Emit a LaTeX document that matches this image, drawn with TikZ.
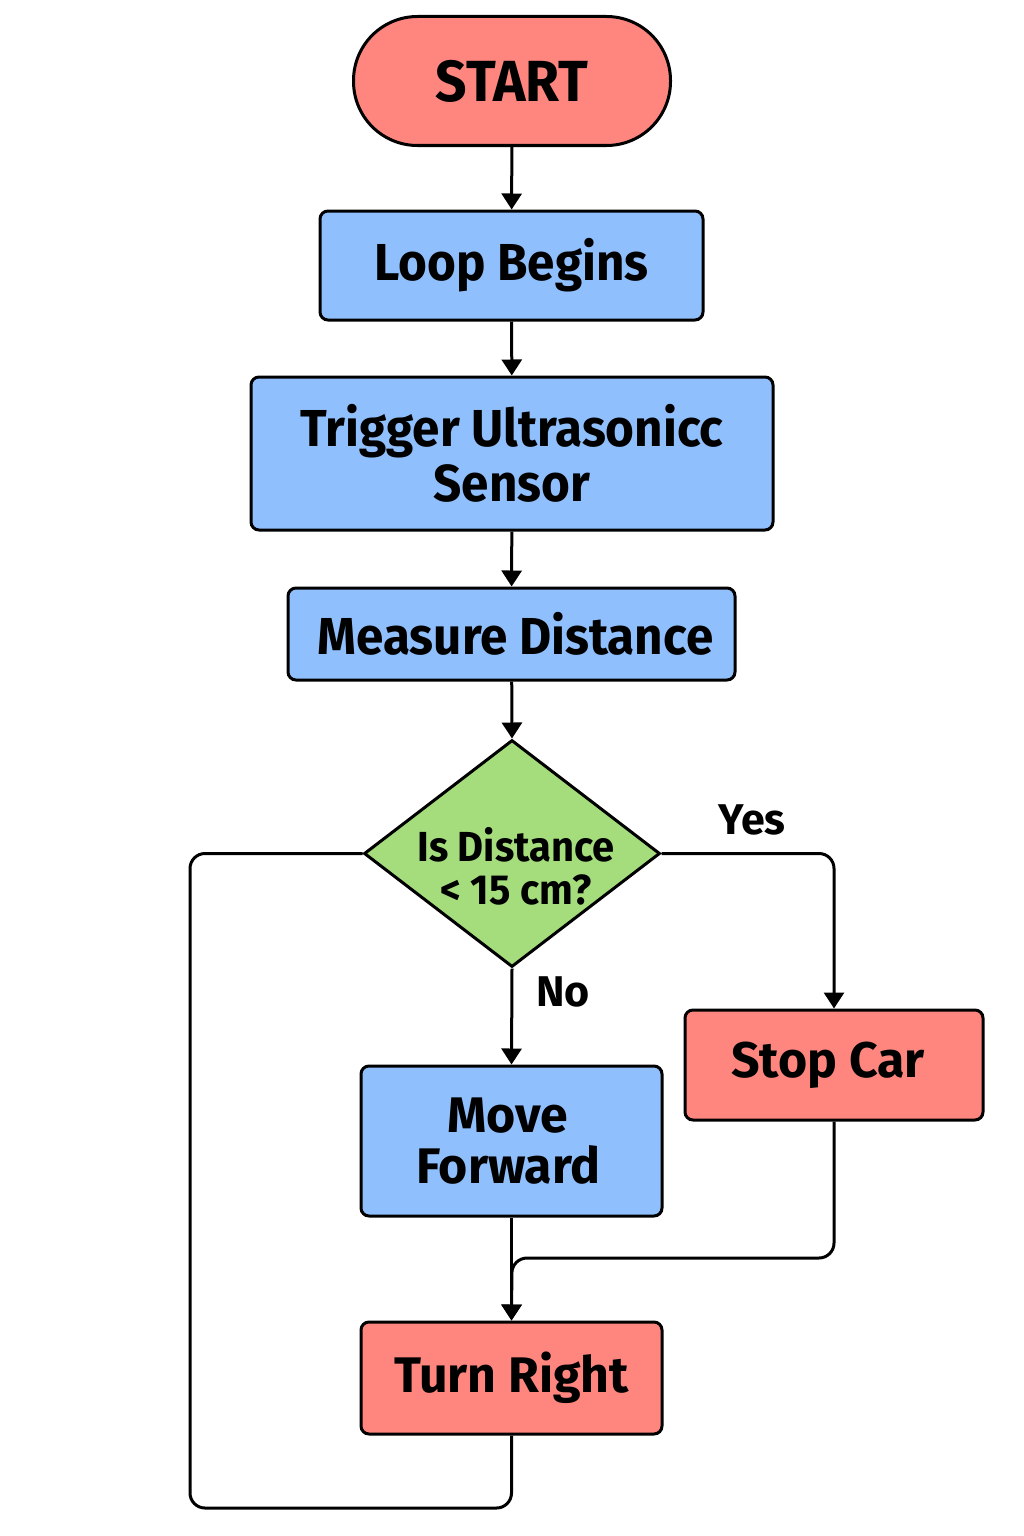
\documentclass[tikz,border=0pt]{standalone}
\usepackage{fontspec}
\setmainfont{Fira Sans}[UprightFont=* Bold]
\newfontfamily\narrowf{Fira Sans}[UprightFont=* Bold, FakeStretch=0.95]
\usetikzlibrary{shapes.geometric,arrows.meta}
\definecolor{salmon}{HTML}{FE867E}
\definecolor{skyb}{HTML}{90BFFD}
\definecolor{leaf}{HTML}{A5DD7D}
\begin{document}
\begin{tikzpicture}[x=1pt,y=-1pt,
  box/.style={draw=black, line width=3pt, rounded corners=8pt, inner sep=0pt, align=center},
  bluebox/.style={box, fill=skyb},
  redbox/.style={box, fill=salmon},
  conn/.style={line width=3pt, -{Triangle[length=16pt,width=20pt]}},
  line/.style={line width=3pt, rounded corners=15pt},
  lbl/.style={font=\fontsize{43}{45}\selectfont}
]
\useasboundingbox[fill=white] (0,0) rectangle (1024,1536);

\node[redbox, rounded corners=64pt, minimum width=317pt, minimum height=129pt, font=\narrowf\fontsize{58}{60}\selectfont] (start) at (512,81) {START};
\node[bluebox, minimum width=383pt, minimum height=109pt, font=\narrowf\fontsize{52}{54}\selectfont] (loop) at (511.5,265.5) {Loop Begins};
\node[bluebox, minimum width=522pt, minimum height=153pt, font=\narrowf\fontsize{52}{55}\selectfont] (trig) at (512,453.5) {Trigger Ultrasonicc\\Sensor};
\node[bluebox, minimum width=447pt, minimum height=92pt, font=\narrowf\fontsize{52}{53}\selectfont] (meas) at (511.5,634) {\hspace*{8pt}Measure Distance};
\node[diamond, draw=black, fill=leaf, line width=3pt, inner sep=0pt, minimum width=296pt, minimum height=227pt] (dec) at (512,853.5) {};
\node[align=center, font=\narrowf\fontsize{42}{43}\selectfont] (dectext) at (516,866) {Is Distance\\< 15 cm?};
\node[redbox, minimum width=298pt, minimum height=110pt, font=\fontsize{50}{52}\selectfont] (stop) at (834,1065) {\hspace*{-12pt}Stop Car};
\node[bluebox, minimum width=301pt, minimum height=150pt, font=\fontsize{50}{51}\selectfont] (move) at (511.5,1141) {\hspace*{-8pt}Move\\\hspace*{-6pt}Forward};
\node[redbox, minimum width=301pt, minimum height=112pt, font=\fontsize{50}{52}\selectfont] (turn) at (511.5,1378) {Turn Right};

\node[lbl] (yes) at (752,820) {Yes};
\node[lbl] (no) at (563,992) {No};

\coordinate (merge) at (512,1258);
\coordinate (back) at (190,1508);

\draw[conn] (start) -- (loop);
\draw[conn] (loop) -- (trig);
\draw[conn] (trig) -- (meas);
\draw[conn] (meas) -- (dec.north);
\draw[conn, rounded corners=15pt] (dec.east) -| (stop.north);
\draw[conn] (dec.south) -- (move.north);
\draw[conn] (move.south) -- (turn.north);
\draw[conn, rounded corners=15pt] (stop.south) |- (merge) -- (turn.north);
\draw[line] (turn.south) |- (back) |- (dec.west);
\end{tikzpicture}
\end{document}
